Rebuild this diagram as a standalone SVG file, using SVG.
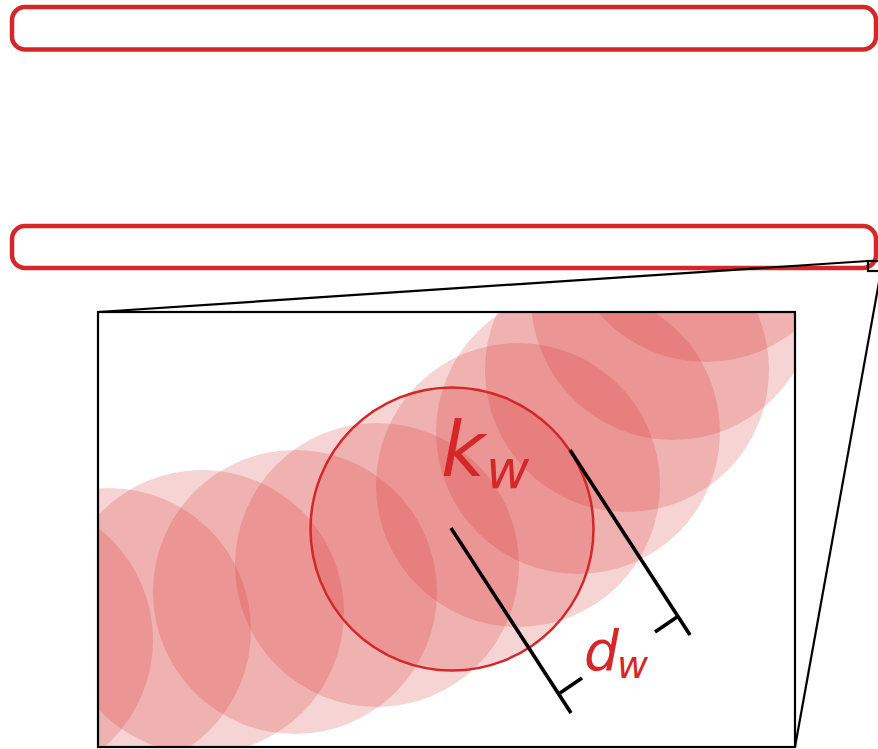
<svg xmlns="http://www.w3.org/2000/svg" width="878" height="749" viewBox="0 0 878 749">
  <style>
    .bar { fill: none; stroke: #d62728; stroke-width: 4.5; }
    .stamp { fill: #d62728; fill-opacity: 0.2; }
    .frame { fill: none; stroke: #000; stroke-width: 2.2; }
    .zl { stroke: #000; stroke-width: 2.2; fill: none; }
    .dim { stroke: #000; stroke-width: 3.6; fill: none; }
    .lbl { fill: #d62728; font-family: "DejaVu Sans", "Liberation Sans", sans-serif; font-style: italic; }
  </style>
  <defs>
    <clipPath id="inset">
      <rect x="98" y="312" width="697" height="435"/>
    </clipPath>
  </defs>
  <rect width="878" height="749" fill="#fff"/>

  <g id="bar-top">
    <rect class="bar" x="12" y="7" width="864" height="42.5" rx="13"/>
  </g>
  <g id="bar-bottom">
    <rect class="bar" x="12" y="226" width="864" height="42" rx="13"/>
  </g>

  <g id="zoom-source">
    <rect class="zl" x="868" y="261" width="13" height="10"/>
  </g>

  <g id="connectors">
    <line class="zl" x1="98" y1="312" x2="868" y2="261"/>
    <line class="zl" x1="795" y1="747" x2="881" y2="271"/>
  </g>

  <g id="inset-view">
    <g clip-path="url(#inset)">
      <circle class="stamp" cx="11" cy="640" r="142"/>
      <circle class="stamp" cx="109" cy="630" r="142"/>
      <circle class="stamp" cx="202" cy="612" r="142"/>
      <circle class="stamp" cx="295" cy="592" r="142"/>
      <circle class="stamp" cx="377" cy="565" r="142"/>
      <circle class="stamp" cx="452" cy="529" r="142"/>
      <circle class="stamp" cx="518" cy="485" r="142"/>
      <circle class="stamp" cx="578" cy="432" r="142"/>
      <circle class="stamp" cx="627" cy="370" r="142"/>
      <circle class="stamp" cx="673" cy="298" r="142"/>
      <circle class="stamp" cx="706" cy="220" r="142"/>
    </g>
    <rect class="frame" x="98" y="312" width="697" height="435"/>
  </g>

  <g id="kernel">
    <circle cx="452" cy="529" r="141.5" fill="none" stroke="#d62728" stroke-width="2.5"/>
    <text class="lbl" x="441" y="476" font-size="76">k</text>
    <text class="lbl" x="486" y="488" font-size="53">w</text>
  </g>

  <g id="dimension">
    <line class="dim" x1="451" y1="528" x2="571" y2="713"/>
    <line class="dim" x1="560" y1="693" x2="582" y2="678"/>
    <line class="dim" x1="570" y1="450" x2="690" y2="635"/>
    <line class="dim" x1="677" y1="617" x2="655" y2="632"/>
    <text class="lbl" x="584" y="670" font-size="55">d</text>
    <text class="lbl" x="617" y="678" font-size="38">w</text>
  </g>
</svg>
